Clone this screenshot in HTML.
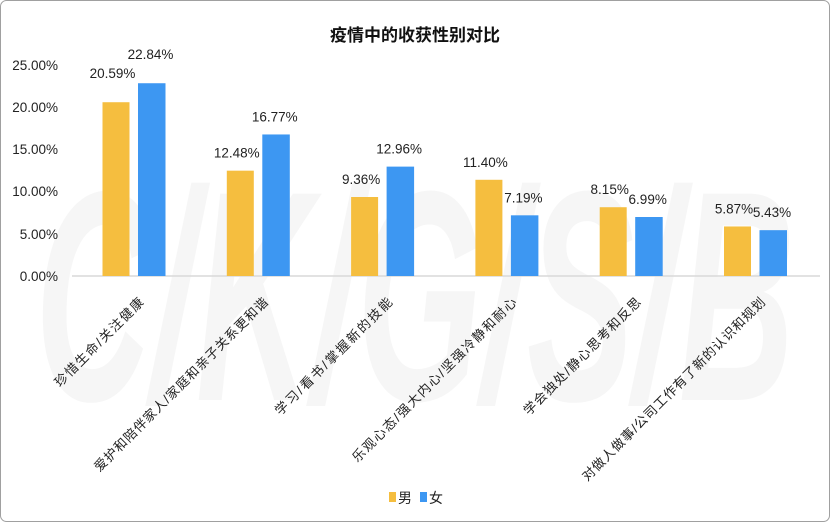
<!DOCTYPE html>
<html><head><meta charset="utf-8"><style>
html,body{margin:0;padding:0;background:#fff}
svg{display:block}
text{font-family:"Liberation Sans","Noto Sans CJK SC",sans-serif}
</style></head><body>
<svg width="830" height="522" viewBox="0 0 830 522" xmlns="http://www.w3.org/2000/svg">
<rect x="0.5" y="0.5" width="829" height="521" rx="6" fill="#fff" stroke="#a0a0a0"/>
<text x="415" y="400" text-anchor="middle" font-size="300" font-weight="bold" font-style="italic" fill="#000" fill-opacity="0.035" textLength="760" lengthAdjust="spacingAndGlyphs">C/K/G/S/B</text>
<text x="415" y="41" text-anchor="middle" font-size="17" font-weight="bold" fill="#111">疫情中的收获性别对比</text>
<g font-size="13.5" fill="#222" text-anchor="end">
<text x="58" y="281">0.00%</text>
<text x="58" y="239">5.00%</text>
<text x="58" y="196">10.00%</text>
<text x="58" y="154">15.00%</text>
<text x="58" y="112">20.00%</text>
<text x="58" y="70">25.00%</text>
</g>
<line x1="72" y1="276" x2="820" y2="276" stroke="#d9d9d9" stroke-width="1.5"/>
<g id="bars"></g>
<g id="lbl" font-size="13" fill="#222" text-anchor="end"></g>
<g font-size="14" fill="#222">
<rect x="389" y="492" width="7" height="10" fill="#f5be3f"/>
<text x="398" y="503">男</text>
<rect x="420" y="492" width="7" height="10" fill="#3d97f2"/>
<text x="429" y="503">女</text>
</g>
<script>
var m=[20.59,12.48,9.36,11.40,8.15,5.87],f=[22.84,16.77,12.96,7.19,6.99,5.43];
var L=["珍惜生命/关注健康","爱护和陪伴家人/家庭和亲子关系更和谐","学习/看书/掌握新的技能","乐观心态/强大内心/坚强冷静和耐心","学会独处/静心思考和反思","对做人做事/公司工作有了新的认识和规划"];
var ns="http://www.w3.org/2000/svg",g=document.getElementById('bars'),lg=document.getElementById('lbl');
function el(t,a,p,tx){var e=document.createElementNS(ns,t);for(var k in a)e.setAttribute(k,a[k]);if(tx)e.textContent=tx;p.appendChild(e);}
for(var i=0;i<6;i++){var x=102.5+i*124.3;
var hm=m[i]*8.44,hf=f[i]*8.44;
el('rect',{x:x,y:276-hm,width:27,height:hm,fill:'#f5be3f'},g);
el('rect',{x:x+35.5,y:276-hf,width:27.5,height:hf,fill:'#3d97f2'},g);
var gm=(i==0?24:13),gf=(i==0?24:13);
el('text',{x:x+10,y:276-hm-gm,'font-size':13.5,fill:'#222','text-anchor':'middle'},g,m[i].toFixed(2)+'%');
el('text',{x:x+48,y:276-hf-gf,'font-size':13.5,fill:'#222','text-anchor':'middle'},g,f[i].toFixed(2)+'%');
el('text',{transform:'translate('+(x+42)+',303) rotate(-45)',textLength:(L[i].length*13.3),lengthAdjust:'spacing'},lg,L[i]);}
</script>
</svg>
</body></html>
